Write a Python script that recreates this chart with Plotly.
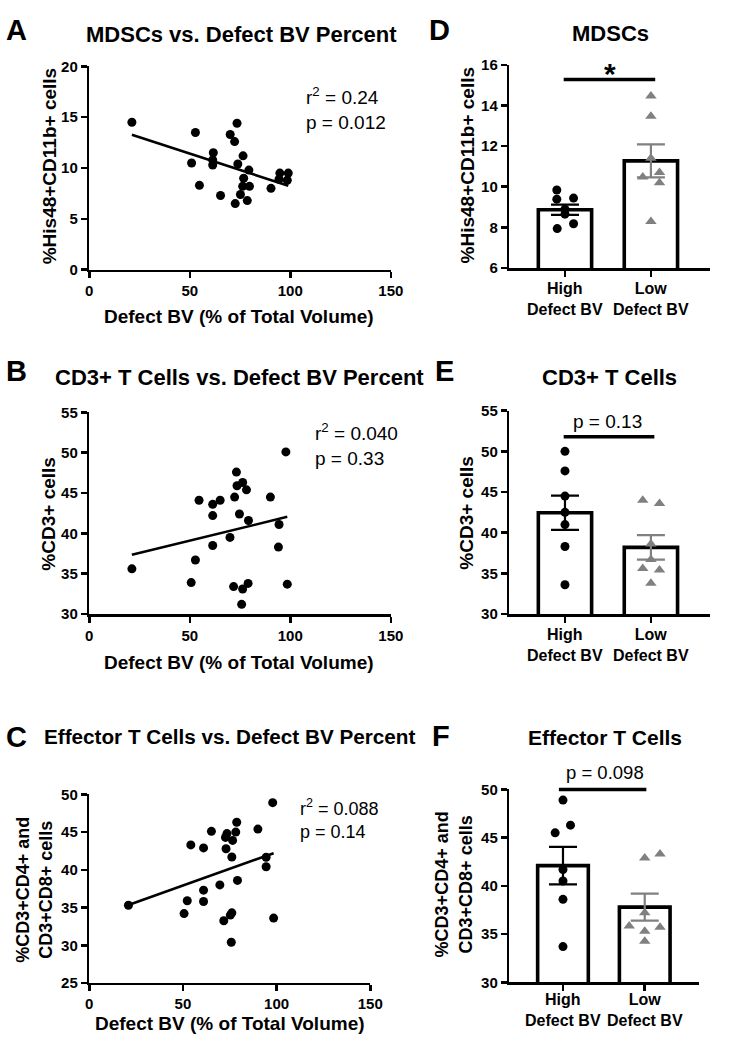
import numpy as np
import plotly.graph_objects as go

W, H = 732, 1050
FONT = "Liberation Sans, Arial, Helvetica, sans-serif"

# ---------------- data ----------------
# Panel A: MDSCs vs defect BV
a_x = [21.2, 52.8, 50.9, 54.8, 61.7, 61.4, 61.4, 65.3, 70.1, 72.3, 73.5, 73.9, 76.5,
       76.8, 76.3, 75.2, 72.6, 78.6, 79.4, 79.7, 90.4, 94.8, 99.0, 98.5, 94.4]
a_y = [14.5, 13.5, 10.5, 8.3, 11.5, 10.8, 10.3, 7.3, 13.3, 12.6, 14.4, 10.4, 11.2,
       9.0, 8.2, 7.4, 6.5, 6.8, 9.8, 8.2, 8.0, 9.5, 9.5, 8.8, 8.9]
# Panel B: CD3+ vs defect BV
b_x = [21.2, 50.7, 52.8, 54.6, 61.4, 61.4, 61.4, 65.1, 70.0, 72.3, 73.2, 73.5, 76.3,
       78.2, 74.7, 79.2, 71.8, 76.3, 79.0, 75.8, 90.1, 94.4, 94.1, 97.8, 98.5]
b_y = [35.6, 33.9, 36.7, 44.1, 43.6, 42.2, 38.5, 44.1, 39.5, 44.5, 47.6, 45.9, 46.3,
       45.4, 42.4, 41.6, 33.4, 33.1, 33.8, 31.2, 44.5, 41.1, 38.3, 50.1, 33.7]
# Panel C: effector T cells vs defect BV
c_x = [20.9, 50.6, 52.3, 54.2, 61.0, 61.0, 61.0, 65.2, 69.7, 72.7, 73.5, 73.0, 78.7,
       78.2, 76.5, 76.1, 79.1, 71.8, 75.3, 76.1, 75.8, 90.0, 94.4, 94.4, 97.9, 98.4]
c_y = [35.3, 34.2, 35.9, 43.3, 42.9, 37.3, 35.8, 45.1, 38.0, 44.3, 44.8, 42.8, 46.3,
       45.0, 43.9, 41.7, 38.6, 33.25, 34.0, 34.3, 30.4, 45.4, 41.65, 40.4, 48.9, 33.6]

stat_a = "r<sup>2</sup> = 0.24<br>p = 0.012"
stat_b = "r<sup>2</sup> = 0.040<br>p = 0.33"
stat_c = "r<sup>2</sup> = 0.088<br>p = 0.14"

categories = ["High<br>Defect BV", "Low<br>Defect BV"]

# Panel D: MDSCs
d_high = [9.84, 9.39, 9.44, 8.9, 8.65, 7.94, 8.18]
d_low = [14.47, 13.47, 11.4, 10.48, 10.7, 10.2, 8.29]
d_mean = [8.87, 11.27]
d_sem = [0.25, 0.81]
# Panel E: CD3+ T cells
e_high = [50.0, 47.6, 44.5, 42.5, 41.0, 38.3, 33.6]
e_low = [44.0, 43.6, 38.6, 36.7, 35.6, 35.4, 33.8]
e_mean = [42.45, 38.2]
e_sem = [2.1, 1.5]
# Panel F: effector T cells
f_high = [48.9, 45.5, 46.3, 41.7, 40.5, 38.6, 33.7]
f_low = [42.9, 43.3, 37.2, 35.85, 35.7, 35.3, 34.25]
f_mean = [42.1, 37.8]
f_sem = [1.95, 1.4]

sig_levels = [15.27, 51.8, 50.0]
sig_labels = ["*", "p = 0.13", "p = 0.098"]

# horizontal scatter of dots within each group (layout only)
d_high_jit = [-0.095, -0.095, 0.1, 0.0, 0.0, -0.09, 0.1]
d_low_jit = [0.0, 0.0, 0.0, -0.095, 0.1, 0.1, 0.0]
e_high_jit = [0, 0, 0, 0, 0, 0, 0]
e_low_jit = [-0.095, 0.1, 0.0, 0.0, -0.095, 0.1, 0.0]
f_high_jit = [0.0, -0.096, 0.092, 0.0, 0.0, 0.0, 0.0]
f_low_jit = [0.0, 0.187, 0.0, -0.19, 0.187, 0.0, 0.0]

x_ticks_scatter = [0, 50, 100, 150]

# ---------------- figure ----------------
fig = go.Figure()
GREY = "#808080"


def dx(p0, p1):
    return [p0 / W, p1 / W]


def dy(top, bottom):
    return [1 - bottom / H, 1 - top / H]


def bold_labels(vals):
    return ["<b>%s</b>" % v for v in vals]


axis_common = dict(showline=True, linecolor="black", linewidth=2.5, ticks="outside",
                   ticklen=6, tickwidth=2.5, tickcolor="black", showgrid=False,
                   zeroline=False,
                   tickfont=dict(family=FONT, size=15, color="black"))

layout_axes = {}

# scatter panels
scatter_panels = [
    (a_x, a_y, "", (87.3, 396), (58.3, 265), [0, 20], [0, 5, 10, 15, 20]),
    (b_x, b_y, "2", (87.3, 396), (410, 615), [30, 55], [30, 35, 40, 45, 50, 55]),
    (c_x, c_y, "3", (87.3, 375), (798.3, 990), [25, 50], [25, 30, 35, 40, 45, 50]),
]
for xs, ys, k, xd, yd, yr, yt in scatter_panels:
    fig.add_trace(go.Scatter(x=xs, y=ys, mode="markers", xaxis="x" + k, yaxis="y" + k,
                             marker=dict(color="black", size=9), showlegend=False,
                             cliponaxis=False))
    coef = np.polyfit(xs, ys, 1)
    lx = [min(xs), max(xs)]
    fig.add_trace(go.Scatter(x=lx, y=list(np.polyval(coef, lx)), mode="lines",
                             xaxis="x" + k, yaxis="y" + k,
                             line=dict(color="black", width=2.6), showlegend=False))
    layout_axes["xaxis" + k] = dict(domain=dx(*xd), anchor="y" + k, range=[0, 150],
                                    tickvals=x_ticks_scatter,
                                    ticktext=bold_labels(x_ticks_scatter), **axis_common)
    layout_axes["yaxis" + k] = dict(domain=dy(*yd), anchor="x" + k, range=yr,
                                    tickvals=yt, ticktext=bold_labels(yt), **axis_common)

# bar panels
bar_panels = [
    (d_high, d_low, d_mean, d_sem, d_high_jit, d_low_jit, "4", (517.3, 723), (56.7, 263.3),
     [6, 16], [6, 8, 10, 12, 14, 16], [-0.648, 1.69]),
    (e_high, e_low, e_mean, e_sem, e_high_jit, e_low_jit, "5", (517.3, 723), (408.3, 615),
     [30, 55], [30, 35, 40, 45, 50, 55], [-0.648, 1.69]),
    (f_high, f_low, f_mean, f_sem, f_high_jit, f_low_jit, "6", (517.3, 711.7), (793.3, 989.3),
     [30, 50], [30, 35, 40, 45, 50], [-0.657, 1.666]),
]
cat_label_y = {"4": 295, "5": 646.5, "6": 1017}
annotations = []
for hi, lo, mean, sem, hj, lj, k, xd, yd, yr, yt, xr in bar_panels:
    for i, col in enumerate(["black", GREY]):
        fig.add_trace(go.Bar(x=[i], y=[mean[i]], width=0.62, xaxis="x" + k, yaxis="y" + k,
                             marker=dict(color="white", line=dict(color="black", width=3.6)),
                             error_y=dict(type="data", array=[sem[i]], visible=True,
                                          color=col, thickness=2.2, width=14),
                             showlegend=False))
        # category label below the axis, centred on the category position
        annotations.append(dict(text="<b>%s</b>" % categories[i], x=i, xref="x" + k,
                                y=1 - cat_label_y[k] / H, yref="paper", showarrow=False,
                                xanchor="center", yanchor="middle", align="center",
                                font=dict(family=FONT, size=16, color="black")))
    fig.add_trace(go.Scatter(x=[0 + j for j in hj], y=hi, mode="markers",
                             xaxis="x" + k, yaxis="y" + k,
                             marker=dict(color="black", size=9, symbol="circle"),
                             showlegend=False, cliponaxis=False))
    fig.add_trace(go.Scatter(x=[1 + j for j in lj], y=lo, mode="markers",
                             xaxis="x" + k, yaxis="y" + k,
                             marker=dict(color=GREY, size=10, symbol="triangle-up"),
                             showlegend=False, cliponaxis=False))
    layout_axes["xaxis" + k] = dict(domain=dx(*xd), anchor="y" + k, range=xr,
                                    tickvals=[0, 1], showticklabels=False, **axis_common)
    layout_axes["yaxis" + k] = dict(domain=dy(*yd), anchor="x" + k, range=yr,
                                    tickvals=yt, ticktext=bold_labels(yt), **axis_common)

# significance bars
shapes = []
sig_specs = [("4", -0.015, 1.05, [6, 16]), ("5", -0.015, 1.04, [30, 55]),
             ("6", -0.05, 1.02, [30, 50])]
for (k, x0, x1, yr), lev in zip(sig_specs, sig_levels):
    frac = (lev - yr[0]) / (yr[1] - yr[0])
    shapes.append(dict(type="line", xref="x" + k, yref="y" + k + " domain",
                       x0=x0, x1=x1, y0=frac, y1=frac,
                       line=dict(color="black", width=3.5)))


def ann(text, x, y, size, bold=False, xanchor="center", yanchor="middle", angle=0,
        align="center"):
    return dict(text=text, x=x / W, y=1 - y / H, xref="paper", yref="paper",
                showarrow=False, xanchor=xanchor, yanchor=yanchor, textangle=angle,
                align=align,
                font=dict(family=FONT, size=size, color="black",
                          weight="bold" if bold else "normal"))


annotations += [
    # panel letters
    ann("A", 13, 21, 29, True), ann("B", 12.5, 368, 29, True), ann("C", 12.5, 740, 29, True),
    ann("D", 446, 21, 29, True), ann("E", 451, 368, 29, True), ann("F", 447, 739, 29, True),
    # titles
    ann("MDSCs vs. Defect BV Percent", 243, 26, 22, True),
    ann("CD3+ T Cells vs. Defect BV Percent", 241, 375, 22, True),
    ann("Effector T Cells vs. Defect BV Percent", 231, 739, 20.7, True),
    ann("MDSCs", 620.7, 25, 22, True),
    ann("CD3+ T Cells", 620, 375, 22, True),
    ann("Effector T Cells", 615, 740, 21, True),
    # stats
    ann(stat_a, 307, 101, 19, xanchor="left", align="left"),
    ann(stat_b, 316, 443, 19, xanchor="left", align="left"),
    ann(stat_c, 301, 823, 18, xanchor="left", align="left"),
    ann(sig_labels[0], 620, 66, 30, True),
    ann(sig_labels[1], 618, 419, 19),
    ann(sig_labels[2], 615, 776, 18.5),
    # axis titles
    ann("Defect BV (% of Total Volume)", 241, 313, 19, True),
    ann("Defect BV (% of Total Volume)", 241, 664, 19, True),
    ann("Defect BV (% of Total Volume)", 231, 1031, 19, True),
    ann("%His48+CD11b+ cells", 47, 160, 19, True, angle=-90),
    ann("%CD3+ cells", 45.5, 512.5, 19, True, angle=-90),
    ann("%CD3+CD4+ and<br>CD3+CD8+ cells", 31, 895, 18, True, angle=-90),
    ann("%His48+CD11b+ cells", 474, 159, 19, True, angle=-90),
    ann("%CD3+ cells", 474, 512, 19, True, angle=-90),
    ann("%CD3+CD4+ and<br>CD3+CD8+ cells", 460.5, 890, 18, True, angle=-90),
]

fig.update_layout(width=W, height=H, margin=dict(l=0, r=0, t=0, b=0),
                  paper_bgcolor="white", plot_bgcolor="white", barmode="overlay",
                  font=dict(family=FONT, color="black"), showlegend=False,
                  shapes=shapes, annotations=annotations, **layout_axes)

fig.write_html(
    "out.html",
    config={"displayModeBar": False, "staticPlot": True},
    post_script=(
        "document.documentElement.style.margin='0';"
        "document.body.style.margin='0';"
        "document.body.style.overflow='hidden';"
        "var d=document.getElementById('{plot_id}');"
        "d.style.position='fixed';d.style.left='0px';d.style.top='0px';"
    ),
)
